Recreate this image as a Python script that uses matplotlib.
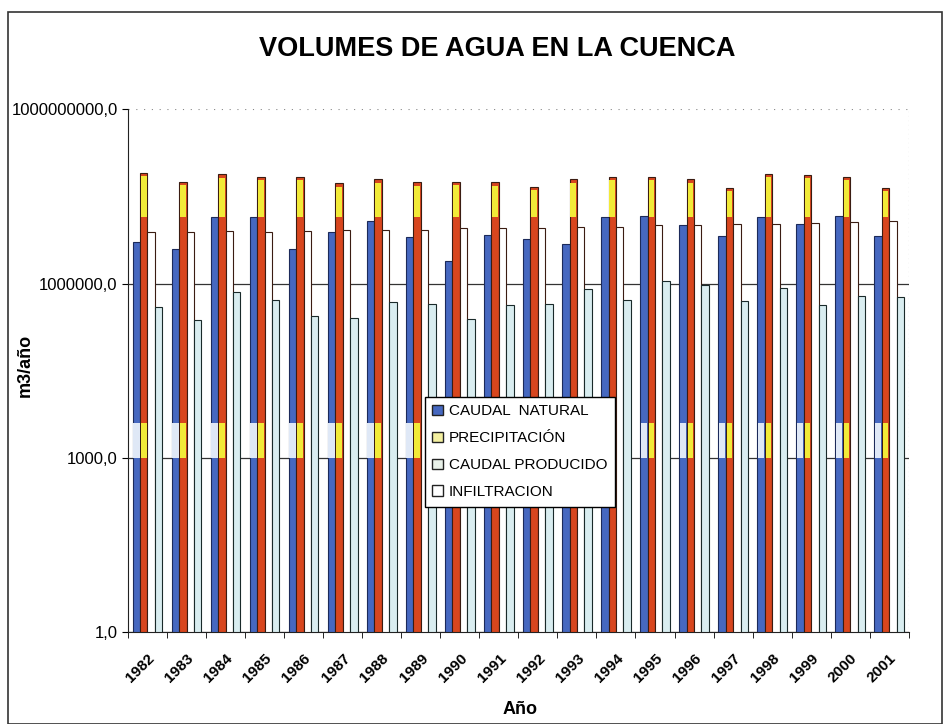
import numpy as np
import matplotlib
matplotlib.use("Agg")
import matplotlib.pyplot as plt
from matplotlib.patches import Patch, Rectangle
from matplotlib.ticker import FixedLocator, NullLocator

plt.rcParams['font.family'] = ['Liberation Sans', 'DejaVu Sans']

# datos (m3/año)
years = ['1982', '1983', '1984', '1985', '1986', '1987', '1988', '1989', '1990', '1991',
         '1992', '1993', '1994', '1995', '1996', '1997', '1998', '1999', '2000', '2001']
caudal_natural = [5.1e6, 3.9e6, 1.4e7, 1.4e7, 3.9e6, 7.6e6, 1.2e7, 6.3e6, 2.4e6, 6.8e6,
                  5.9e6, 4.8e6, 1.4e7, 1.45e7, 1.0e7, 6.6e6, 1.4e7, 1.05e7, 1.45e7, 6.5e6]
precipitacion = [8.1e7, 5.6e7, 7.6e7, 6.9e7, 6.9e7, 5.3e7, 6.2e7, 5.5e7, 5.7e7, 5.5e7,
                 4.6e7, 6.2e7, 6.9e7, 6.9e7, 6.2e7, 4.5e7, 7.8e7, 7.4e7, 6.9e7, 4.5e7]
caudal_producido = [7.8e6, 7.6e6, 8.1e6, 7.8e6, 8.1e6, 8.5e6, 8.5e6, 8.5e6, 8.9e6, 8.9e6,
                    8.9e6, 9.5e6, 9.5e6, 1.0e7, 1.0e7, 1.05e7, 1.07e7, 1.1e7, 1.15e7, 1.2e7]
infiltracion = [3.9e5, 2.4e5, 7.3e5, 5.2e5, 2.8e5, 2.6e5, 4.9e5, 4.5e5, 2.5e5, 4.3e5,
                4.5e5, 8.0e5, 5.2e5, 1.1e6, 9.5e5, 5.0e5, 8.4e5, 4.2e5, 6.2e5, 5.8e5]
labels = ['CAUDAL  NATURAL', 'PRECIPITACIÓN', 'CAUDAL PRODUCIDO', 'INFILTRACION']

# efecto de degradado de Excel
GRAD_LOW = (1000, 3900)
GRAD_TOP = 1.4e7

BLUE = '#4668c0'
RED = '#d8461e'
YELLOW = '#f2ea38'
EDGE = '#3a1c12'

fig = plt.figure(figsize=(9.43, 7.24), dpi=100)
ax = fig.add_axes([0.1357, 0.127, 0.828, 0.722])

x = np.arange(len(years))
w = 0.19
offs = np.array([-1.5, -0.5, 0.5, 1.5]) * w

cn = np.array(caudal_natural)
pr = np.array(precipitacion)

ax.bar(x + offs[0], cn, w, bottom=1, color=BLUE, edgecolor='#1c2a5a', linewidth=0.8, zorder=3)
ax.bar(x + offs[0], GRAD_LOW[1] - GRAD_LOW[0], w * 0.85, bottom=GRAD_LOW[0],
       color='#dfe8f6', linewidth=0, zorder=3.5)
ax.bar(x + offs[1], pr, w, bottom=1, color=RED, edgecolor=EDGE, linewidth=0.8, zorder=3)
ax.bar(x + offs[1], pr * 0.88 - GRAD_TOP, w * 0.75, bottom=GRAD_TOP,
       color=YELLOW, linewidth=0, zorder=3.5)
ax.bar(x + offs[1], GRAD_LOW[1] - GRAD_LOW[0], w * 0.75, bottom=GRAD_LOW[0],
       color=YELLOW, linewidth=0, zorder=3.5)
ax.bar(x + offs[2], caudal_producido, w, bottom=1, color='white', edgecolor=EDGE,
       linewidth=0.8, zorder=3)
ax.bar(x + offs[3], infiltracion, w, bottom=1, color='#d9edf0', edgecolor='#1a2a2a',
       linewidth=0.8, zorder=3)

ax.set_yscale('log')
ax.set_ylim(1, 1e9)
ax.set_xlim(-0.5, len(years) - 0.5)
ax.yaxis.set_major_locator(FixedLocator([1, 1e3, 1e6, 1e9]))
ax.yaxis.set_minor_locator(NullLocator())
ax.set_yticklabels(['1,0', '1000,0', '1000000,0', '1000000000,0'], fontsize=12)
ax.grid(axis='y', color='#333333', linewidth=0.9, zorder=1)
ax.get_ygridlines()[-1].set_visible(False)
ax.axhline(1e9, color='#888888', linewidth=0.8, linestyle=(0, (1, 6)), zorder=1)
ax.axvline(len(years) - 0.5, color='#888888', linewidth=0.8, linestyle=(0, (1, 3)), zorder=1)

ax.set_xticks(x)
ax.set_xticklabels(years, rotation=45, ha='right', rotation_mode='anchor',
                   fontsize=11, fontweight='bold')
ax.set_xticks(np.arange(len(years) + 1) - 0.5, minor=True)
ax.tick_params(axis='x', which='major', length=0, pad=14)
ax.tick_params(axis='x', which='minor', length=4)
ax.tick_params(axis='y', length=4)

for s in ['top', 'right']:
    ax.spines[s].set_visible(False)
ax.spines['left'].set_color('#222222')
ax.spines['bottom'].set_color('#222222')

ax.set_ylabel('m3/año', fontsize=13, fontweight='bold')
ax.yaxis.set_label_coords(-0.121, 0.51)
ax.set_xlabel('Año', fontsize=13, fontweight='bold')
ax.xaxis.set_label_coords(0.502, -0.132)

fig.text(0.527, 0.932, 'VOLUMES DE AGUA EN LA CUENCA', ha='center', va='center',
         fontsize=19.5, fontweight='bold')

handles = [Patch(facecolor=BLUE, edgecolor='#222222'),
           Patch(facecolor='#f4f0a0', edgecolor='#222222'),
           Patch(facecolor='#e8f0e8', edgecolor='#222222'),
           Patch(facecolor='white', edgecolor='#222222')]
leg = ax.legend(handles, labels, loc='center left', bbox_to_anchor=(0.38, 0.345),
                fontsize=11, frameon=True, fancybox=False, edgecolor='black',
                framealpha=1, handlelength=0.7, handleheight=0.7, handletextpad=0.4,
                labelspacing=0.85, borderpad=0.5, borderaxespad=0)
leg.set_zorder(10)

# marco exterior del grafico
fig.patches.append(Rectangle((0.009, 0.0), 0.99, 0.983, transform=fig.transFigure,
                             fill=False, edgecolor='#333333', linewidth=1.2))

fig.savefig('out.png', dpi=100)
